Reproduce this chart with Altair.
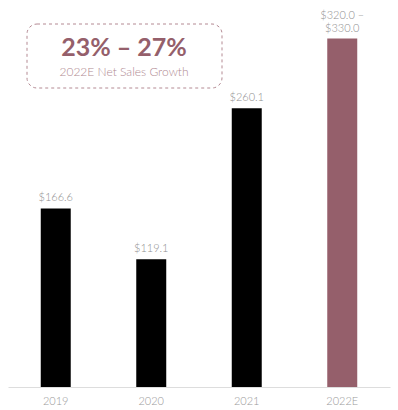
import altair as alt
import pandas as pd

years = ["2019", "2020", "2021", "2022E"]
values = [166.6, 119.1, 260.1, 325.0]
labels_top = ["", "", "", "$320.0 –"]
labels_bottom = ["$166.6", "$119.1", "$260.1", "$330.0"]
colors = ["#000000", "#000000", "#000000", "#955F6B"]

df = pd.DataFrame({"year": years, "value": values, "top": labels_top,
                   "bottom": labels_bottom, "color": colors})

FONT = "Lato"

x = alt.X("year:N", sort=years, title=None,
          scale=alt.Scale(paddingInner=0.686, paddingOuter=0.343),
          axis=alt.Axis(labelAngle=0, ticks=False, domainColor="#dddddd",
                        labelColor="#9a9a9a", labelFontSize=11, labelFont=FONT,
                        labelFontWeight=300, labelPadding=8))
y = alt.Y("value:Q", scale=alt.Scale(domain=[0, 361]), axis=None)

base = alt.Chart(df).encode(x=x, y=y)

bars = base.mark_bar().encode(color=alt.Color("color:N", scale=None))
text_b = base.mark_text(baseline="bottom", dy=-5, fontSize=11, font=FONT, fontWeight=300,
                        color="#909090").encode(text="bottom:N")
text_t = base.mark_text(baseline="bottom", dy=-18, fontSize=11, font=FONT, fontWeight=300,
                        color="#909090").encode(text="top:N")

box = alt.Chart(df.head(1)).mark_rect(
    fill="white", stroke="#b48a93", strokeDash=[3, 3], strokeWidth=1, cornerRadius=10
).encode(x=alt.value(19), x2=alt.value(214), y=alt.value(24), y2=alt.value(88))

big = alt.Chart(df.head(1)).mark_text(
    text="23% – 27%", font=FONT, fontSize=25, fontWeight="bold", color="#955F6B"
).encode(x=alt.value(116), y=alt.value(48))

sub = alt.Chart(df.head(1)).mark_text(
    text="2022E Net Sales Growth", font=FONT, fontSize=12, fontWeight=300, color="#b08a92"
).encode(x=alt.value(116), y=alt.value(72))

chart = alt.layer(bars, text_b, text_t, box, big, sub).properties(
    width=382, height=387,
    background="white",
    autosize=alt.AutoSizeParams(type="none"),
    padding={"left": 8, "top": 0, "right": 8, "bottom": 23},
).configure_view(stroke=None)

chart.save("out.html", embed_options={"renderer": "svg", "actions": False})
